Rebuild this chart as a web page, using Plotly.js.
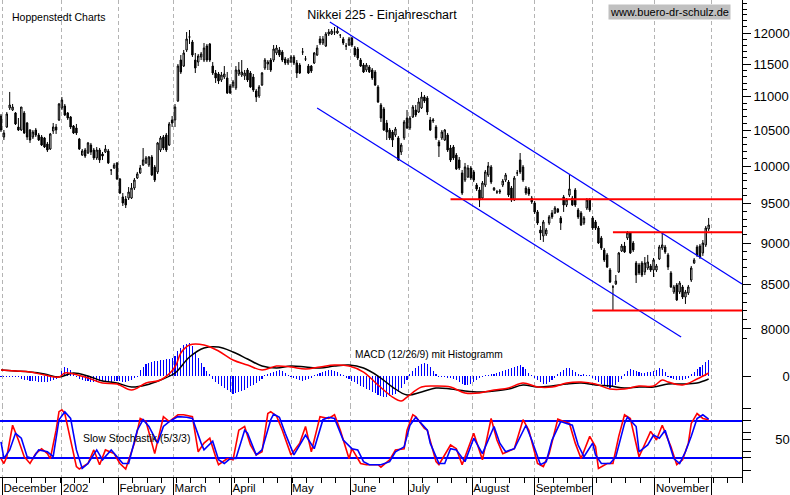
<!DOCTYPE html>
<html><head><meta charset="utf-8">
<script src="https://cdn.plot.ly/plotly-3.0.1.min.js"></script>
<style>html,body{margin:0;padding:0;background:#fff;}#chart{width:790px;height:495px;}</style>
</head><body><div id="chart"></div>
<script>
// ---- Daily candles (trading-day index 0..244, Dec 2001 - Nov 2002) ----
const openP=[10710,10407,10550,10829,10799,10755,10550,10507,10755,10608,
10507,10407,10507,10435,10407,10393,10307,10237,10493,10550,
10652,10829,10858,10755,10696,10565,10536,10378,10153,10223,
10181,10293,10223,10112,10223,10167,10195,10209,9947,9974,
10043,9825,9586,9559,9572,9572,9704,9838,9906,10015,
10043,10015,10125,9988,9920,10223,10407,10435,10293,10652,
10652,10933,11564,11469,11724,11935,11853,11564,11532,11612,
11564,11788,11821,11469,11360,11345,11252,11298,11283,11160,
11160,11130,11345,11329,11314,11407,11360,11298,11084,11008,
11175,11438,11501,11564,11564,11676,11724,11692,11580,11517,
11532,11612,11517,11485,11692,11580,11469,11469,11517,11644,
11902,11837,11788,11984,11984,12016,12000,11967,11902,11788,
11804,11918,11756,11740,11564,11485,11407,11454,11407,11376,
11145,10873,10814,10608,10507,10478,10435,10393,10195,10393,
10681,10536,10696,10799,10769,10829,10993,10978,10652,10637,
10550,10336,10393,10364,10435,10251,10265,10153,10084,9906,
9811,9852,9974,9920,9744,9678,9572,9744,9879,9988,
9678,9651,9651,9744,9811,9784,9704,9546,9906,10084,
9988,9704,9691,9572,9507,9391,9162,9087,9112,9250,
9378,9378,9429,9314,9586,9481,9612,9572,9678,9416,
9378,9250,9442,9546,9314,9263,9187,9062,8914,8854,
8673,8474,8509,8650,8902,8963,9062,9124,9000,8757,
8733,8757,8650,8697,8721,8673,8673,8805,8939,8951,
8854,8638,8416,8497,8416,8474,8358,8404,8555,8757,
8951,8963,8878,8976,9175];
const highP=[10740,10507,10769,11069,10888,10769,10681,10843,10784,10623,
10521,10507,10536,10464,10435,10407,10336,10464,10608,10594,
10903,10993,10888,10769,10710,10579,10594,10393,10237,10251,
10336,10322,10251,10265,10251,10195,10293,10237,9947,10043,
10056,9838,9638,9599,9717,9771,9838,9920,10015,10251,
10139,10139,10153,10015,10336,10421,10435,10464,10623,10710,
10888,11501,11644,11724,12016,12049,11886,11676,11660,11692,
11837,11821,11837,11532,11407,11376,11376,11469,11376,11190,
11252,11469,11532,11564,11407,11438,11391,11345,11114,11175,
11376,11596,11564,11596,11804,11804,11772,11724,11612,11596,
11644,11644,11564,11517,11756,11628,11501,11485,11692,11804,
11951,11951,12016,12066,12066,12099,12116,11967,11935,11837,
11935,11935,11788,11772,11596,11517,11517,11485,11438,11407,
11175,10903,10843,10652,10536,10507,10550,10421,10322,10652,
10799,10710,10873,10873,10978,11069,11023,11008,10696,10681,
10579,10364,10507,10521,10464,10293,10293,10181,10125,9947,
10043,10015,10001,9947,9771,9717,9798,9947,10056,10015,
9717,9678,9691,9825,9906,9811,9731,9865,9947,10181,
10015,9731,9717,9599,9533,9416,9212,9288,9187,9352,
9416,9468,9442,9339,9612,9572,9879,9599,9704,9442,
9403,9339,9572,9572,9339,9288,9212,9087,8939,8878,
8697,8497,8614,8890,8988,9013,9149,9137,9025,8781,
8757,8781,8829,8854,8745,8817,8745,8976,9137,8976,
8878,8661,8497,8520,8543,8497,8439,8497,8721,8817,
8976,8988,9037,9212,9314];
const lowP=[10478,10364,10536,10799,10784,10579,10493,10493,10450,10364,
10322,10378,10407,10350,10279,10251,10195,10223,10450,10450,
10637,10799,10710,10652,10521,10450,10435,10223,10139,10112,
10167,10153,10084,10084,10043,10084,10181,10029,9879,9961,
9811,9625,9468,9442,9546,9559,9678,9825,9893,10001,
10029,9988,9865,9784,9893,10195,10223,10195,10279,10550,
10550,10918,11345,11454,11692,11821,11612,11360,11469,11564,
11532,11532,11532,11329,11206,11190,11221,11267,11038,11038,
11130,11099,11314,11298,11252,11221,11130,11069,10918,10978,
11160,11407,11407,11376,11532,11644,11612,11532,11485,11485,
11517,11485,11283,11345,11644,11548,11345,11360,11501,11628,
11804,11804,11772,11951,11967,11967,11984,11918,11804,11724,
11788,11772,11612,11564,11454,11360,11376,11360,11252,11160,
10903,10623,10493,10364,10364,10265,10407,10070,10153,10364,
10521,10507,10681,10696,10755,10814,10903,10725,10493,10608,
10364,10125,10364,10350,10195,10056,10084,9947,9947,9612,
9784,9838,9811,9784,9665,9455,9546,9717,9852,9757,
9665,9625,9625,9717,9784,9586,9520,9533,9865,9893,
9784,9612,9599,9494,9365,9225,9037,9013,9087,9225,
9301,9365,9378,9162,9391,9455,9586,9468,9455,9301,
9212,9225,9416,9391,9162,9162,8988,8914,8769,8697,
8520,8211,8497,8638,8890,8878,9037,8866,8890,8520,
8614,8590,8614,8673,8650,8590,8650,8793,8914,8866,
8673,8462,8393,8313,8393,8335,8279,8381,8532,8745,
8829,8805,8842,8951,9149];
const closeP=[10507,10464,10740,10873,10843,10594,10507,10843,10464,10407,
10364,10478,10435,10364,10293,10265,10223,10450,10550,10507,
10888,10948,10725,10681,10550,10464,10464,10237,10209,10139,
10322,10195,10112,10223,10084,10139,10237,10043,9947,10015,
9825,9638,9507,9481,9651,9704,9811,9893,9974,10084,
10112,10125,9879,9811,10322,10393,10251,10223,10594,10608,
10843,11469,11376,11676,11902,11935,11644,11438,11628,11660,
11756,11564,11564,11360,11283,11237,11329,11345,11053,11053,
11221,11407,11407,11376,11360,11252,11145,11099,10993,11145,
11360,11564,11532,11407,11740,11756,11644,11564,11517,11564,
11612,11517,11360,11360,11692,11580,11360,11391,11676,11756,
11837,11902,11984,12016,12033,12016,12033,11967,11837,11788,
11902,11804,11644,11596,11469,11376,11485,11376,11283,11175,
10918,10681,10507,10478,10393,10364,10521,10084,10293,10623,
10536,10681,10843,10725,10918,10993,10933,10769,10507,10652,
10393,10279,10478,10507,10223,10084,10112,9961,9974,9638,
9988,9974,9838,9811,9691,9546,9771,9920,10001,9784,
9704,9651,9665,9798,9879,9612,9546,9838,9906,9920,
9811,9638,9625,9520,9391,9250,9124,9263,9162,9327,
9327,9442,9391,9250,9481,9546,9691,9481,9481,9327,
9225,9314,9546,9416,9187,9187,9000,8939,8793,8709,
8532,8474,8543,8878,8963,8890,9124,8878,8914,8614,
8638,8614,8757,8769,8673,8793,8721,8951,8976,8890,
8709,8474,8474,8324,8520,8358,8416,8474,8697,8793,
8854,8829,9000,9187,9225];

// ---- Month boundaries on the trading-day axis and their labels ----
const monthBoundaries=[0.5,21,40.5,59.5,79.5,100,120.5,140.5,162.5,184,204,225.5,245];
const monthLabels=['December','2002','February','March','April','May','June','July','August','September','','November',''];

// ---- Trend lines / levels drawn on the price panel ----
const channelUpperIdx=[113.4,255.5], channelUpperVal=[12182,8509];
const channelLowerIdx=[109,234.5], channelLowerVal=[10829,7913];
const levelVals=[9555,9135,8205];
const levelStart=[155,211,204];
const levelEnd=255.5;

// ---- MACD (12/26/9) ----
const macdIdx=[0,5,10,15,20,22,25,30,35,40,45,50,55,60,62,65,70,75,80,85,90,95,100,105,110,115,120,125,130,135,138,140,145,150,155,160,165,170,175,180,185,190,195,200,205,210,215,220,225,228,230,235,240,244];
const macdVal=[60,50,40,10,-10,30,20,-20,-70,-80,-140,-70,-40,90,230,310,310,250,160,110,60,100,90,70,90,110,100,40,-90,-210,-250,-210,-110,-100,-110,-170,-170,-140,-120,-70,-110,-110,-70,-60,-80,-130,-130,-100,-100,-40,-60,-90,-30,30];
const signalIdx=[0,5,10,15,20,25,30,35,40,45,50,55,60,65,70,75,80,85,90,95,100,105,110,115,120,125,130,135,140,145,150,155,160,165,170,175,180,185,190,195,200,205,210,215,220,225,230,235,240,244];
const signalVal=[60,50,40,20,-10,30,0,-50,-70,-110,-90,-40,30,190,280,290,240,170,100,80,100,90,80,100,110,80,0,-110,-190,-160,-120,-130,-150,-160,-150,-130,-90,-110,-100,-80,-70,-90,-100,-120,-110,-110,-80,-80,-70,-30];
const histVal=[-10,-10,-10,-10,-10,-10,-10,-30,-40,-40,
-50,-50,-50,-60,-60,-60,-60,-50,-40,-30,
-10,50,90,80,60,30,-10,-30,-40,-50,
-50,-60,-60,-60,-50,-50,-60,-60,-60,-50,
-50,-50,-60,-60,-50,-40,-20,-10,60,90,
120,130,140,150,150,160,160,170,170,180,
200,250,280,310,320,330,300,240,180,130,
90,50,20,-30,-60,-80,-100,-120,-140,-160,
-180,-170,-160,-150,-140,-120,-100,-90,-70,-50,
-30,10,20,30,40,50,60,50,30,10,
-10,-20,-30,-40,-50,-40,-30,-20,10,20,
30,40,50,60,60,50,40,20,10,-20,
-30,-50,-60,-80,-100,-110,-130,-140,-160,-170,
-190,-200,-210,-210,-200,-190,-180,-160,-120,-80,
-40,20,50,80,100,120,130,120,90,50,
20,-10,-10,-10,-20,-20,-30,-40,-60,-80,
-90,-90,-80,-60,-40,-20,-10,10,10,20,
20,30,40,50,60,70,80,90,100,110,
90,70,30,10,-20,-40,-60,-80,-80,-60,
-40,-20,20,40,60,80,80,60,40,20,
10,20,10,10,-20,-40,-60,-80,-100,-110,
-120,-110,-90,-60,-30,20,50,70,60,50,
40,30,30,40,40,50,60,80,70,40,
-10,-20,-30,-40,-40,-40,-30,-20,20,40,
70,90,110,140,160];

// ---- Slow Stochastik (5/3/3) ----
const stochKIdx=[0,1,2,4,6,8,10,12,14,16,17,19,20,21,22,24,26,27,30,32,34,36,39,41,43,46,48,50,53,56,58,61,63,66,68,70,72,74,75,78,80,82,84,86,88,90,92,93,95,97,100,103,105,107,110,113,115,117,120,121,124,126,130,131,133,134,136,139,140,142,143,146,147,150,151,155,157,159,163,166,169,171,173,177,180,182,185,187,189,192,194,196,198,200,203,205,206,209,211,213,215,217,220,221,224,226,228,231,233,235,237,238,240,242,244];
const stochKVal=[19,11,22,73,49,22,11,27,35,27,19,65,95,98,92,49,6,2,11,33,9,33,27,11,2,44,84,79,27,87,79,90,90,87,30,44,52,22,9,19,17,65,71,41,25,30,92,95,88,65,25,44,71,30,87,84,90,65,19,35,11,9,9,5,14,17,33,35,65,90,87,68,65,14,9,41,35,9,60,17,84,49,27,35,82,65,11,6,27,83,79,76,44,19,55,38,3,11,11,55,90,84,22,33,63,49,73,38,9,17,44,76,92,84,82];
const stochDIdx=[0,1,3,5,7,9,11,13,16,18,20,22,24,26,28,30,33,35,38,40,42,44,47,49,51,54,56,58,61,64,66,69,70,73,75,77,79,81,84,85,88,90,93,94,96,98,101,103,105,108,111,113,115,118,121,123,125,127,131,134,136,139,141,143,145,147,148,151,153,155,157,160,163,166,170,172,174,177,181,183,186,188,190,193,195,197,199,201,204,205,207,210,212,215,216,219,220,223,225,227,229,232,234,236,238,240,242,244];
const stochDVal=[46,19,33,60,52,22,19,33,30,22,82,95,84,33,3,11,33,17,33,22,11,11,65,82,71,44,71,79,87,86,84,44,33,47,17,11,19,19,65,60,25,33,82,91,86,60,25,41,57,35,82,86,84,49,35,33,14,9,9,14,30,38,73,86,76,65,44,11,11,35,33,14,52,27,71,44,30,35,73,49,9,14,49,79,76,73,41,22,44,25,11,11,22,76,86,71,30,41,57,52,65,19,11,30,55,84,90,83];
const stochLevels=[20,80];

const days=openP.map((_,i)=>i);
const FONT="Arial, 'Liberation Sans', sans-serif";
const FS='\u2007';

const traces=[
  {type:'candlestick',x:days,open:openP,high:highP,low:lowP,close:closeP,xaxis:'x',yaxis:'y',
   increasing:{line:{color:'#000',width:1},fillcolor:'#fff'},
   decreasing:{line:{color:'#000',width:1},fillcolor:'#000'},
   whiskerwidth:0,hoverinfo:'skip',showlegend:false},
  {type:'scatter',mode:'lines',x:channelUpperIdx,y:channelUpperVal,xaxis:'x',yaxis:'y',line:{color:'#0000ff',width:1.2},hoverinfo:'skip',showlegend:false},
  {type:'scatter',mode:'lines',x:channelLowerIdx,y:channelLowerVal,xaxis:'x',yaxis:'y',line:{color:'#0000ff',width:1.2},hoverinfo:'skip',showlegend:false}
];
levelVals.forEach((v,k)=>{
  traces.push({type:'scatter',mode:'lines',x:[levelStart[k],levelEnd],y:[v,v],xaxis:'x',yaxis:'y',
    line:{color:'#ff0000',width:2},hoverinfo:'skip',showlegend:false});
});
traces.push(
  {type:'bar',x:days,y:histVal,xaxis:'x',yaxis:'y2',width:0.38,marker:{color:'#0000ff',line:{width:0}},hoverinfo:'skip',showlegend:false},
  {type:'scatter',mode:'lines',x:signalIdx,y:signalVal,xaxis:'x',yaxis:'y2',line:{color:'#000',width:1.5,shape:'spline'},hoverinfo:'skip',showlegend:false},
  {type:'scatter',mode:'lines',x:macdIdx,y:macdVal,xaxis:'x',yaxis:'y2',line:{color:'#ff0000',width:1.5,shape:'spline'},hoverinfo:'skip',showlegend:false}
);
stochLevels.forEach(v=>{
  traces.push({type:'scatter',mode:'lines',x:[-0.345,255.5],y:[v,v],xaxis:'x',yaxis:'y3',line:{color:'#0000ff',width:2},hoverinfo:'skip',showlegend:false});
});
traces.push(
  {type:'scatter',mode:'lines',x:stochKIdx,y:stochKVal,xaxis:'x',yaxis:'y3',line:{color:'#ff0000',width:1.6},hoverinfo:'skip',showlegend:false},
  {type:'scatter',mode:'lines',x:stochDIdx,y:stochDVal,xaxis:'x',yaxis:'y3',line:{color:'#0000ff',width:1.6},hoverinfo:'skip',showlegend:false}
);

const mainTicks=[8000,8500,9000,9500,10000,10500,11000,11500,12000];
const mainMinor=[];
for(let v=7900;v<=12500;v+=100) mainMinor.push(v);
const pad=(s,n)=>FS.repeat(Math.max(0,n-s.length))+s;

const yCommon={side:'right',anchor:'x',showline:true,linecolor:'#000',linewidth:1,ticks:'outside',ticklen:8,tickcolor:'#000',
  showgrid:false,zeroline:false,fixedrange:true,tickfont:{family:FONT,size:13,color:'#000'}};

const layout={
  width:790,height:495,margin:{l:0,r:48,t:0,b:18},paper_bgcolor:'#fff',plot_bgcolor:'#fff',
  showlegend:false,bargap:0,
  title:{text:'Nikkei 225 - Einjahreschart',font:{family:FONT,size:12.5,color:'#000'},x:382/790,xanchor:'center',y:1-15/495,yanchor:'middle'},
  xaxis:{domain:[0,1],range:[-0.345,255.5],anchor:'y3',showline:true,linecolor:'#000',linewidth:1,
    tickmode:'array',tickvals:monthBoundaries,ticktext:monthLabels,ticks:'outside',ticklen:18,tickcolor:'#000',
    ticklabelposition:'outside right',ticklabelstandoff:0,
    tickfont:{family:FONT,size:11.5,color:'#000'},
    showgrid:true,gridcolor:'#b4b4b4',gridwidth:1,griddash:'4px,3px',zeroline:false,
    minor:{tickmode:'linear',tick0:0.5,dtick:5,ticks:'outside',ticklen:5,tickcolor:'#000',showgrid:false},
    rangeslider:{visible:false},fixedrange:true},
  yaxis:Object.assign({},yCommon,{domain:[0.2872,1],type:'log',range:[Math.log10(7880),Math.log10(12555)],
    tickmode:'array',tickvals:mainTicks,ticktext:mainTicks.map(v=>pad(String(v),5)),
    minor:{tickmode:'array',tickvals:mainMinor,ticks:'outside',ticklen:4,tickcolor:'#000',showgrid:false}}),
  yaxis2:Object.assign({},yCommon,{domain:[0.1509,0.2872],range:[-290,360],tickmode:'array',tickvals:[0],ticktext:[pad('0',5)]}),
  yaxis3:Object.assign({},yCommon,{domain:[0,0.1509],range:[-10.9,105.8],tickmode:'array',
    tickvals:[0,20,30,50,62,80,100],ticktext:['','','',pad('50',5),'','','']}),
  annotations:[
    {text:'Hoppenstedt Charts',xref:'paper',yref:'paper',x:10/742,y:1-17/477,xanchor:'left',yanchor:'middle',showarrow:false,font:{family:FONT,size:10.5,color:'#000'}},
    {text:'www.buero-dr-schulz.de',xref:'paper',yref:'paper',x:669.5/742,y:1-12/477,xanchor:'center',yanchor:'middle',showarrow:false,bgcolor:'#c0c0c0',borderpad:1,font:{family:FONT,size:11,color:'#000'}},
    {text:'MACD (12/26/9) mit Histogramm',xref:'paper',yref:'paper',x:353/742,y:1-354/477,xanchor:'left',yanchor:'middle',showarrow:false,font:{family:FONT,size:10.2,color:'#000'}},
    {text:'Slow Stochastik (5/3/3)',xref:'paper',yref:'paper',x:81/742,y:1-438/477,xanchor:'left',yanchor:'middle',showarrow:false,font:{family:FONT,size:10.5,color:'#000'}}
  ]
};
Plotly.newPlot('chart',traces,layout,{staticPlot:true,displayModeBar:false});
</script></body></html>
